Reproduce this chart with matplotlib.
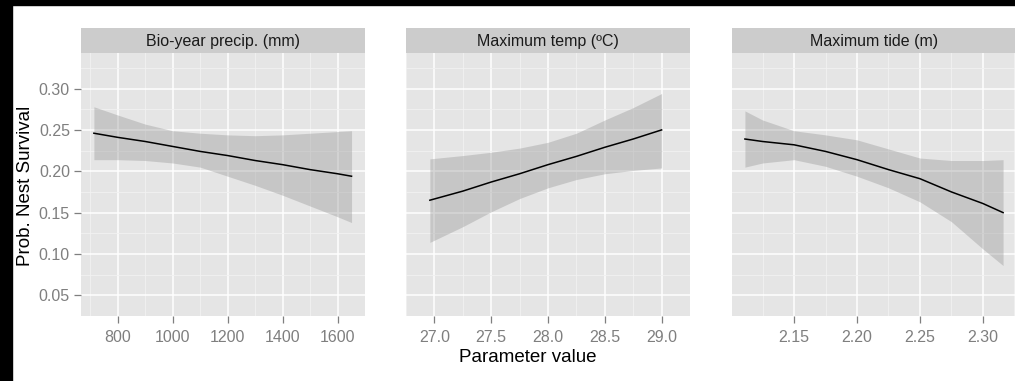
import numpy as np
import matplotlib
matplotlib.use("Agg")
from matplotlib import pyplot as plt
from matplotlib.patches import Rectangle

plt.rcParams['font.family'] = ['Liberation Sans', 'DejaVu Sans']

#----------------------------------------------------------------------------------------------------#
# data
#----------------------------------------------------------------------------------------------------#

panelTitles = ["Bio-year precip. (mm)", "Maximum temp (ºC)", "Maximum tide (m)"]

precipX = [713, 800, 900, 1000, 1100, 1200, 1300, 1400, 1500, 1600, 1651]
precipMid = [0.246, 0.241, 0.236, 0.230, 0.224, 0.219, 0.213, 0.208, 0.202, 0.197, 0.194]
precipHi = [0.278, 0.268, 0.257, 0.249, 0.246, 0.244, 0.243, 0.244, 0.246, 0.248, 0.249]
precipLo = [0.214, 0.214, 0.213, 0.210, 0.205, 0.194, 0.183, 0.171, 0.158, 0.145, 0.138]

tempX = [26.96, 27.25, 27.5, 27.75, 28.0, 28.25, 28.5, 28.75, 29.0]
tempMid = [0.165, 0.176, 0.187, 0.197, 0.208, 0.218, 0.229, 0.239, 0.250]
tempHi = [0.215, 0.219, 0.223, 0.228, 0.235, 0.246, 0.262, 0.277, 0.294]
tempLo = [0.114, 0.133, 0.151, 0.167, 0.180, 0.190, 0.197, 0.201, 0.204]

tideX = [2.111, 2.125, 2.15, 2.175, 2.20, 2.225, 2.25, 2.275, 2.30, 2.316]
tideMid = [0.239, 0.236, 0.232, 0.224, 0.214, 0.202, 0.191, 0.175, 0.161, 0.150]
tideHi = [0.273, 0.262, 0.249, 0.244, 0.238, 0.227, 0.216, 0.213, 0.213, 0.214]
tideLo = [0.205, 0.210, 0.214, 0.206, 0.194, 0.180, 0.163, 0.139, 0.106, 0.086]

yTicks = [0.05, 0.10, 0.15, 0.20, 0.25, 0.30]
xTicksList = [[800, 1000, 1200, 1400, 1600],
              [27.0, 27.5, 28.0, 28.5, 29.0],
              [2.15, 2.20, 2.25, 2.30]]
xFmt = ["{:.0f}", "{:.1f}", "{:.2f}"]

#----------------------------------------------------------------------------------------------------#
# figure layout (pixels)
#----------------------------------------------------------------------------------------------------#

W, H = 1015, 381
fig = plt.figure(figsize=(W / 100, H / 100), dpi=100)
fig.patch.set_facecolor('white')

# black frame bits on the left and top of the original screenshot
fig.patches.append(Rectangle((0, 0), 12 / W, 1, transform=fig.transFigure, color='black', zorder=10))
fig.patches.append(Rectangle((0, 1 - 5 / H), 1, 5 / H, transform=fig.transFigure, color='black', zorder=10))

panelLefts = [81, 406, 732]
panelW = 284
panelTop, panelBottom = 53, 316
stripTop = 28

series = [(precipX, precipMid, precipLo, precipHi),
          (tempX, tempMid, tempLo, tempHi),
          (tideX, tideMid, tideLo, tideHi)]

yLim = (0.035, 0.343)
tickGrey = '#7F7F7F'

for i, (xs, mid, lo, hi) in enumerate(series):
    left = panelLefts[i]
    ax = fig.add_axes([left / W, 1 - panelBottom / H, panelW / W, (panelBottom - panelTop) / H])
    ax.set_facecolor('#E5E5E5')

    span = max(xs) - min(xs)
    ax.set_xlim(min(xs) - 0.05 * span, max(xs) + 0.05 * span)
    ax.set_ylim(*yLim)

    xt = xTicksList[i]
    step = xt[1] - xt[0]
    minorX = [t - step / 2 for t in xt] + [xt[-1] + step / 2]
    minorY = [t - 0.025 for t in yTicks] + [yTicks[-1] + 0.025]

    ax.set_xticks(xt)
    ax.set_xticklabels([xFmt[i].format(t) for t in xt])
    ax.set_xticks(minorX, minor=True)
    ax.set_yticks(yTicks)
    ax.set_yticks(minorY, minor=True)
    ax.set_yticklabels(["{:.2f}".format(t) for t in yTicks])

    ax.grid(True, which='major', color='white', linewidth=1.1, zorder=0)
    ax.grid(True, which='minor', color='#F2F2F2', linewidth=0.6, zorder=0)
    ax.set_axisbelow(True)
    for s in ax.spines.values():
        s.set_visible(False)

    ax.tick_params(which='minor', length=0)
    ax.tick_params(which='major', axis='both', colors=tickGrey, labelcolor=tickGrey,
                   length=5, width=0.9, labelsize=11.5, pad=3)
    ax.tick_params(axis='x', pad=5)
    if i > 0:
        ax.tick_params(axis='y', left=False, labelleft=False)

    ax.fill_between(xs, lo, hi, color='#999999', alpha=0.4, linewidth=0, zorder=2)
    ax.plot(xs, mid, color='black', linewidth=1.1, zorder=3)

    # strip on top of panel
    sx = fig.add_axes([left / W, 1 - panelTop / H, panelW / W, (panelTop - stripTop) / H])
    sx.set_facecolor('#CCCCCC')
    sx.set_xticks([])
    sx.set_yticks([])
    for s in sx.spines.values():
        s.set_visible(False)
    sx.text(0.5, 0.45, panelTitles[i], ha='center', va='center', fontsize=11.5,
            color='#1A1A1A', transform=sx.transAxes)

#----------------------------------------------------------------------------------------------------#
# axis titles
#----------------------------------------------------------------------------------------------------#

fig.text(528 / W, 1 - 357 / H, "Parameter value", ha='center', va='center', fontsize=13.5)
fig.text(26 / W, 1 - 186 / H, "Prob. Nest Survival", ha='center', va='center',
         rotation=90, fontsize=13.5)

fig.savefig("out.png", dpi=100)
